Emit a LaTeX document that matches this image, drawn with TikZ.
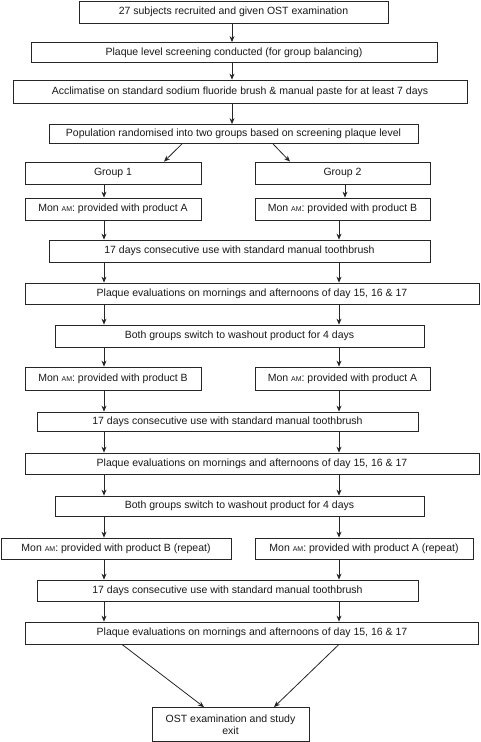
\documentclass[tikz,border=0pt]{standalone}
\usepackage{fontspec}
\setmainfont{Liberation Sans}
\usetikzlibrary{arrows.meta}
\newcommand{\smam}{{\fontsize{7}{7}\selectfont AM}}
\tikzset{
  box/.style={draw=black!85, line width=0.8pt, rectangle, inner sep=0pt, align=center,
    font=\fontsize{10.5}{12}\selectfont, text=black!90},
  arr/.style={draw=black!85, line width=0.8pt, -{Stealth[length=6pt,width=5pt]}}
}
\begin{document}
\begin{tikzpicture}[x=1pt,y=-1pt]
\useasboundingbox (0,0) rectangle (480,742);
\fill[white] (0,0) rectangle (480,742);
% x positions of connectors
\coordinate (xC) at (232,0);
\coordinate (xL) at (104,0);
\coordinate (xR) at (339,0);
\coordinate (xR2) at (345,0);
\coordinate (xDa) at (182,0);
\coordinate (xDb) at (164,0);
\coordinate (xDc) at (273,0);
\coordinate (xDd) at (290,0);
\coordinate (xEa) at (122,0);
\coordinate (xEb) at (204,0);
\coordinate (xEc) at (339,0);
\coordinate (xEd) at (274,0);
% nodes
\node[box, minimum width=309pt, minimum height=22pt] (n1) at (233.5,12) {27 subjects recruited and given OST examination};
\node[box, minimum width=406pt, minimum height=20pt] (n2) at (234,52.5) {Plaque level screening conducted (for group balancing)};
\node[box, minimum width=454pt, minimum height=23pt] (n3) at (240,91.5) {Acclimatise on standard sodium fluoride brush \& manual paste for at least 7 days};
\node[box, minimum width=369pt, minimum height=19pt] (n4) at (233.5,134) {Population randomised into two groups based on screening plaque level};
\node[box, minimum width=176pt, minimum height=22pt] (g1) at (113,173) {Group 1};
\node[box, minimum width=175pt, minimum height=22pt] (g2) at (342.5,173) {Group 2};
\node[box, minimum width=176pt, minimum height=22pt] (ma1) at (113,209) {Mon \smam: provided with product A};
\node[box, minimum width=175pt, minimum height=22pt] (mb1) at (342.5,209) {Mon \smam: provided with product B};
\node[box, minimum width=381pt, minimum height=22pt] (d1) at (239.5,251) {17 days consecutive use with standard manual toothbrush};
\node[box, minimum width=454pt, minimum height=21pt] (p1) at (252,293.5) {Plaque evaluations on mornings and afternoons of day 15, 16 \& 17};
\node[box, minimum width=369pt, minimum height=22pt] (s1) at (239.5,336) {Both groups switch to washout product for 4 days};
\node[box, minimum width=176pt, minimum height=23pt] (mb2) at (113,378.5) {Mon \smam: provided with product B};
\node[box, minimum width=175pt, minimum height=23pt] (ma2) at (342.5,378.5) {Mon \smam: provided with product A};
\node[box, minimum width=381pt, minimum height=19pt] (d2) at (227.5,421.5) {17 days consecutive use with standard manual toothbrush};
\node[box, minimum width=454pt, minimum height=21pt] (p2) at (252,463.5) {Plaque evaluations on mornings and afternoons of day 15, 16 \& 17};
\node[box, minimum width=369pt, minimum height=20pt] (s2) at (239.5,506) {Both groups switch to washout product for 4 days};
\node[box, minimum width=230pt, minimum height=21pt] (mb3) at (116,548.5) {Mon \smam: provided with product B (repeat)};
\node[box, minimum width=218pt, minimum height=21pt] (ma3) at (364,548.5) {Mon \smam: provided with product A (repeat)};
\node[box, minimum width=381pt, minimum height=21pt] (d3) at (227.5,590.5) {17 days consecutive use with standard manual toothbrush};
\node[box, minimum width=453pt, minimum height=22pt] (p3) at (252,633) {Plaque evaluations on mornings and afternoons of day 15, 16 \& 17};
\node[box, minimum width=157pt, minimum height=34pt] (ost) at (230.5,724.5) {OST examination and study\\exit};
% connectors
\draw[arr] (n1.south -| xC) -- (n2.north -| xC);
\draw[arr] (n2.south -| xC) -- (n3.north -| xC);
\draw[arr] (n3.south -| xC) -- (n4.north -| xC);
\draw[arr] (n4.south -| xDa) -- (g1.north -| xDb);
\draw[arr] (n4.south -| xDc) -- (g2.north -| xDd);
\draw[arr] (g1.south -| xL) -- (ma1.north -| xL);
\draw[arr] (g2.south -| xR2) -- (mb1.north -| xR2);
\draw[arr] (ma1.south -| xL) -- (d1.north -| xL);
\draw[arr] (mb1.south -| xR) -- (d1.north -| xR);
\draw[arr] (d1.south -| xL) -- (p1.north -| xL);
\draw[arr] (d1.south -| xR) -- (p1.north -| xR);
\draw[arr] (p1.south -| xL) -- (s1.north -| xL);
\draw[arr] (p1.south -| xR) -- (s1.north -| xR);
\draw[arr] (s1.south -| xL) -- (mb2.north -| xL);
\draw[arr] (s1.south -| xR) -- (ma2.north -| xR);
\draw[arr] (mb2.south -| xL) -- (d2.north -| xL);
\draw[arr] (ma2.south -| xR) -- (d2.north -| xR);
\draw[arr] (d2.south -| xL) -- (p2.north -| xL);
\draw[arr] (d2.south -| xR) -- (p2.north -| xR);
\draw[arr] (p2.south -| xL) -- (s2.north -| xL);
\draw[arr] (p2.south -| xR) -- (s2.north -| xR);
\draw[arr] (s2.south -| xL) -- (mb3.north -| xL);
\draw[arr] (s2.south -| xR) -- (ma3.north -| xR);
\draw[arr] (mb3.south -| xL) -- (d3.north -| xL);
\draw[arr] (ma3.south -| xR) -- (d3.north -| xR);
\draw[arr] (d3.south -| xL) -- (p3.north -| xL);
\draw[arr] (d3.south -| xR) -- (p3.north -| xR);
\draw[arr] (p3.south -| xEa) -- (ost.north -| xEb);
\draw[arr] (p3.south -| xEc) -- (ost.north -| xEd);
\end{tikzpicture}
\end{document}
